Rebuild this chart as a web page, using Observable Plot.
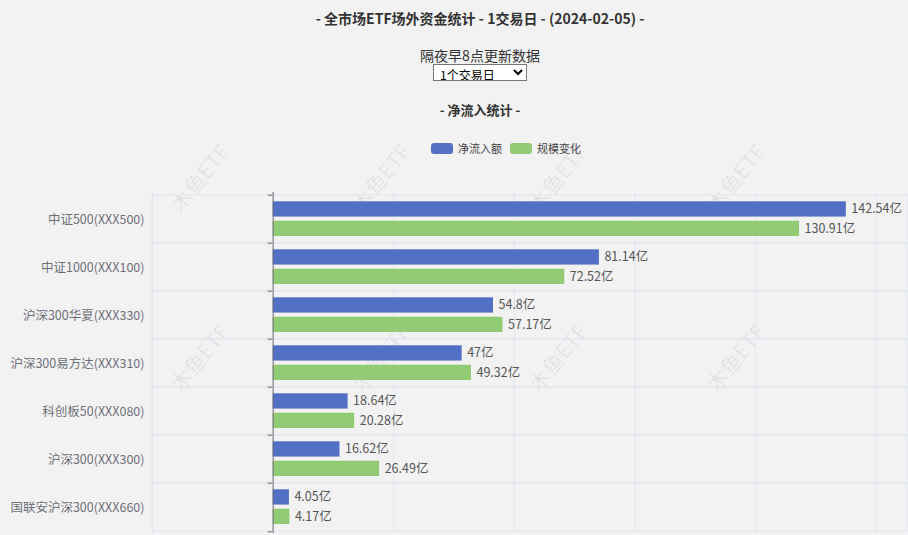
<!DOCTYPE html>
<html><head><meta charset="utf-8">
<script src="https://cdn.jsdelivr.net/npm/d3@7"></script>
<script src="https://cdn.jsdelivr.net/npm/@observablehq/plot@0.6"></script>
<style>
html,body{margin:0;padding:0;}
body{background:#f2f2f2;width:908px;height:535px;overflow:hidden;position:relative;font-family:"Noto Sans CJK SC","Noto Sans",sans-serif;color:#333;}
.abs{position:absolute;white-space:nowrap;}
.title{left:0;width:960px;top:8px;height:20px;line-height:20px;text-align:center;font-size:14px;font-weight:bold;color:#333;}
.sub{left:0;width:960px;top:45px;height:20px;line-height:20px;text-align:center;font-size:14px;color:#333;}
select{position:absolute;left:433px;top:64px;width:94px;height:17px;font-size:12px;padding:0 0 0 2px;border:1px solid #767676;background:#fff;color:#000;font-family:"Noto Sans CJK SC",sans-serif;border-radius:0;}
.sec{left:0;width:960px;top:100px;height:20px;line-height:20px;text-align:center;font-size:13px;font-weight:bold;color:#333;}
.lgbox{width:22px;height:11px;border-radius:3px;top:143px;}
.lgtxt{top:140px;height:16px;line-height:16px;font-size:11px;color:#444;}
#chart{position:absolute;left:0;top:185px;}
.wm{position:absolute;font-size:21px;color:rgba(0,0,0,0.065);transform:translate(-50%,-50%) rotate(-51deg);white-space:nowrap;font-family:"Noto Sans CJK SC",sans-serif;pointer-events:none;}
</style></head>
<body>
<div id="wm"></div>
<div class="abs title">- 全市场ETF场外资金统计 - 1交易日 - (2024-02-05) -</div>
<div class="abs sub">隔夜早8点更新数据</div>
<select><option>1个交易日</option></select>
<div class="abs sec">- 净流入统计 -</div>
<div id="legend"></div>
<div id="chart"></div>
<script>
const categories = ["中证500(XXX500)","中证1000(XXX100)","沪深300华夏(XXX330)","沪深300易方达(XXX310)","科创板50(XXX080)","沪深300(XXX300)","国联安沪深300(XXX660)"];
const inflow = [142.54, 81.14, 54.8, 47, 18.64, 16.62, 4.05];
const scaleChange = [130.91, 72.52, 57.17, 49.32, 20.28, 26.49, 4.17];
const seriesNames = ["净流入额", "规模变化"];
const seriesColors = ["#5470c6", "#91cc75"];
const xTicks = [-30, 0, 30, 60, 90, 120, 150];

const data = categories.map((name, i) => ({name, inflow: inflow[i], scale: scaleChange[i]}));

// watermarks (only those fully inside the page)
const wm = document.getElementById("wm");
[177, 357].forEach(y => {
  [199, 380, 557, 735].forEach(x => {
    const d = document.createElement("div");
    d.className = "wm"; d.textContent = "木鱼ETF";
    d.style.left = x + "px"; d.style.top = y + "px";
    wm.appendChild(d);
  });
});

// legend
const lg = document.getElementById("legend");
const lgX = [431, 510];
seriesNames.forEach((s, i) => {
  const b = document.createElement("div");
  b.className = "abs lgbox"; b.style.left = lgX[i] + "px"; b.style.background = seriesColors[i];
  const t = document.createElement("div");
  t.className = "abs lgtxt"; t.style.left = (lgX[i] + 27) + "px"; t.textContent = s;
  lg.appendChild(b); lg.appendChild(t);
});

const W = 908, H = 350, MT = 7, MB = 2;
const bw = (H - MT - MB) / categories.length;
const axisColor = "#6e7079", gridColor = "#e0e6f1";

const chart = Plot.plot({
  width: W, height: H,
  marginLeft: 152, marginRight: 0, marginTop: MT, marginBottom: MB,
  style: {background: "transparent", fontFamily: '"Noto Sans CJK SC", sans-serif', overflow: "visible"},
  x: {domain: [-30, 158], axis: null},
  y: {domain: categories, padding: 0, axis: null},
  marks: [
    Plot.gridX(xTicks, {stroke: gridColor, strokeOpacity: 1}),
    Plot.barX(categories, {y: d => d, x1: -30, x2: 158, fill: "none", stroke: gridColor, strokeOpacity: 1}),
    Plot.barX(data, {y: "name", x: "inflow", fill: seriesColors[0], insetTop: 6.3, insetBottom: bw - 22.3}),
    Plot.barX(data, {y: "name", x: "scale", fill: seriesColors[1], insetTop: 25.7, insetBottom: bw - 41.7}),
    Plot.ruleX([0], {stroke: axisColor}),
    Plot.ruleY(categories, {y: d => d, x1: -1.25, x2: 0, dy: -bw / 2, stroke: axisColor}),
    Plot.ruleY([categories[categories.length - 1]], {y: d => d, x1: -1.25, x2: 0, dy: bw / 2, stroke: axisColor}),
    Plot.text(data, {y: "name", x: "inflow", text: d => d.inflow + "亿", textAnchor: "start", dx: 5, dy: 14.3 - bw / 2, fill: "#555", fontSize: 12.5}),
    Plot.text(data, {y: "name", x: "scale", text: d => d.scale + "亿", textAnchor: "start", dx: 5, dy: 33.7 - bw / 2, fill: "#555", fontSize: 12.5}),
    Plot.axisY({anchor: "left", tickSize: 0, tickPadding: 8, fontSize: 12.5, color: axisColor, label: null})
  ]
});
document.getElementById("chart").appendChild(chart);
</script>
</body></html>
